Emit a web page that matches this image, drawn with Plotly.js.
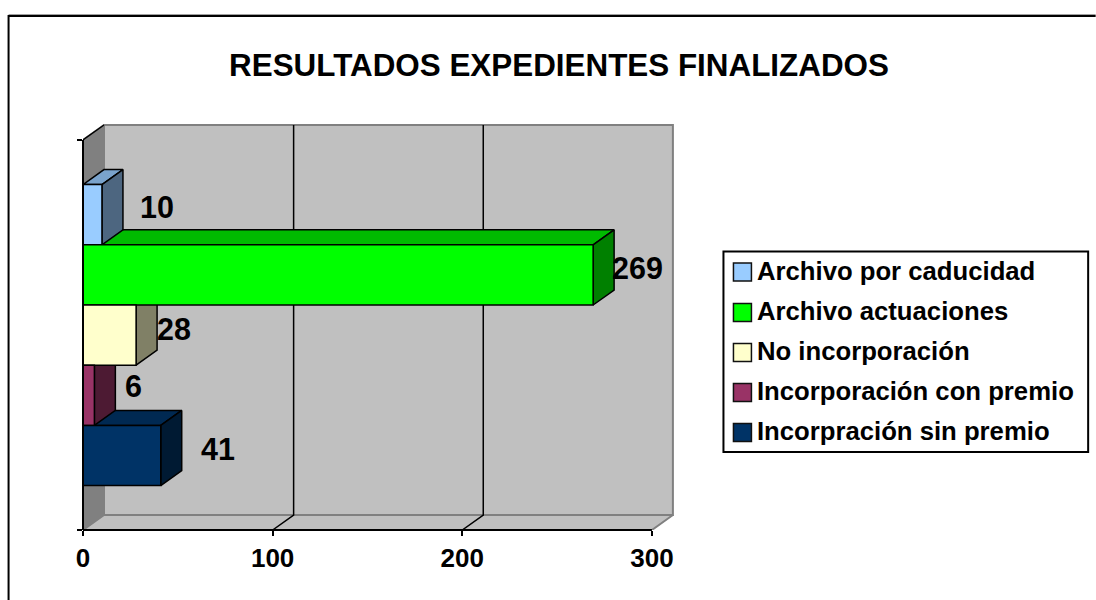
<!DOCTYPE html>
<html>
<head>
<meta charset="utf-8">
<script src="https://cdn.plot.ly/plotly-3.0.1.min.js"></script>
<style>html,body{margin:0;padding:0;background:#fff}#chart{width:1096px;height:600px}</style>
</head>
<body>
<div id="chart"></div>
<script>
// ---- data, listed top of the legend first ----
var categories = ["Archivo por caducidad", "Archivo actuaciones", "No incorporación", "Incorporación con premio", "Incorpración sin premio"];
var values = [10, 269, 28, 6, 41];
var tickValues = [0, 100, 200, 300];
var chartTitle = "RESULTADOS EXPEDIENTES FINALIZADOS";

// ---- styles ----
var frontColors = ["#99ccff", "#00ff00", "#ffffcc", "#993366", "#003366"];
var sideColors  = ["#4d6680", "#008000", "#808066", "#4d1a33", "#001a33"];
var topColors   = ["#7aa3cc", "#00bb00", "#cccca3", "#7a2952", "#002952"];
var labelShiftX = [55, 44, 38, 39, 57];
var labelShiftY = [8, 7, 6, 9, 7];
var legendSwatchCentres = [272, 312.5, 352.5, 392.5, 432.5];

// ---- geometry ----
var W = 1096, H = 600;
var M = {l: 82.5, r: 420, t: 121, b: 70};
var pxPerX = 1.898, pxPerY = 60.2;
var plotW = W - M.l - M.r, plotH = H - M.t - M.b;
var xRange = [0, plotW / pxPerX];
var yLow = -1.2375;
var yRange = [yLow, yLow + plotH / pxPerY];
var dX = 21 / pxPerX, dY = 15 / pxPerY;           // oblique depth, in axis units
var yTopTick = yLow + 390 / pxPerY;               // front top of the y axis
var xMax = 300;
var n = categories.length;
var rowOf = function (i) { return n - 1 - i; };   // last category sits lowest
function paperX(px) { return (px - M.l) / plotW; }
function paperY(py) { return 1 - (py - M.t) / plotH; }
function fracX(v) { return (v - xRange[0]) / (xRange[1] - xRange[0]); }
function fracY(v) { return (v - yRange[0]) / (yRange[1] - yRange[0]); }

function poly(xs, ys, fill, line, width) {
  return {type: "scatter", mode: "lines", x: xs, y: ys, fill: "toself", fillcolor: fill,
          line: {color: line, width: width}, hoverinfo: "skip", showlegend: false, cliponaxis: false};
}
function seg(xs, ys, color, width) {
  return {type: "scatter", mode: "lines", x: xs, y: ys, line: {color: color, width: width},
          hoverinfo: "skip", showlegend: false, cliponaxis: false};
}

var traces = [];
// walls and floor
traces.push(poly([dX, xMax + dX, xMax + dX, dX, dX], [yLow + dY, yLow + dY, yTopTick + dY, yTopTick + dY, yLow + dY], "#c0c0c0", "#808080", 2));
traces.push(poly([0, dX, dX, 0, 0], [yLow, yLow + dY, yTopTick + dY, yTopTick, yLow], "#808080", "#808080", 2));
traces.push(poly([0, xMax, xMax + dX, dX, 0], [yLow, yLow, yLow + dY, yLow + dY, yLow], "#c0c0c0", "#808080", 2));
// grid on the back wall and floor
tickValues.slice(1, -1).forEach(function (t) {
  traces.push(seg([t, t + dX, t + dX], [yLow, yLow + dY, yTopTick + dY], "#000000", 1.5));
});
// top edge of the side wall
traces.push(seg([0, dX], [yTopTick, yTopTick + dY], "#000000", 1.5));

// sides and tops, painted from the lowest bar upward
for (var i = n - 1; i >= 0; i--) {
  var v = values[i], r = rowOf(i);
  var lo = r - 0.5, hi = r + 0.5;
  traces.push(poly([0, dX, v + dX, v, 0], [hi, hi + dY, hi + dY, hi, hi], topColors[i], "#000000", 1.5));
  traces.push(poly([v, v + dX, v + dX, v, v], [lo, lo + dY, hi + dY, hi, lo], sideColors[i], "#000000", 1.5));
}
// front faces on the overlay axes, so they cover the lower bars' tops
categories.forEach(function (c, i) {
  traces.push({type: "bar", orientation: "h", x: [values[i]], y: [rowOf(i)], width: 1, xaxis: "x2", yaxis: "y2", cliponaxis: false,
    marker: {color: frontColors[i], line: {color: "#000000", width: 1.5}},
    name: c, legendgroup: c, showlegend: false, hovertemplate: c + ": %{x}<extra></extra>"});
});
// legend entries: the native key is too small to match, so larger keys are drawn as shapes below
categories.forEach(function (c, i) {
  traces.push({type: "scatter", mode: "markers", x: [null], y: [null], name: c, legendgroup: c, showlegend: true,
    marker: {symbol: "square", size: 10, color: "rgba(0,0,0,0)", line: {width: 0}}});
});

var font = "'Liberation Sans', Arial, sans-serif";
var annotations = values.map(function (v, i) {
  return {x: v, y: rowOf(i), xref: "x", yref: "y", text: String(v), showarrow: false,
          xshift: labelShiftX[i], yshift: labelShiftY[i], xanchor: "center", yanchor: "middle",
          font: {family: font, size: 30.5, weight: 700, color: "#000000"}};
});

var rectShape = function (x0, y0, x1, y1, color, width) {
  return {type: "line", xref: "paper", yref: "paper", x0: paperX(x0), y0: paperY(y0), x1: paperX(x1), y1: paperY(y1),
          line: {color: color, width: width}};
};
var shapes = [
  rectShape(8, 14.5, 1096, 14.5, "#a0a0a0", 1),
  rectShape(8, 16, 1096, 16, "#000000", 2),
  rectShape(8, 15, 8, 600, "#000000", 2),
  {type: "rect", xref: "paper", yref: "paper", x0: paperX(723.5), x1: paperX(1088.5), y0: paperY(251.5), y1: paperY(452),
   line: {color: "#000000", width: 2}, fillcolor: "#ffffff", layer: "below"},
  // axis lines: at the plot edge, so drawn unclipped in paper units
  {type: "line", xref: "paper", yref: "paper", x0: 0, x1: 0, y0: fracY(yLow), y1: fracY(yTopTick), line: {color: "#000000", width: 2}},
  {type: "line", xref: "paper", yref: "paper", x0: 0, x1: fracX(xMax), y0: fracY(yLow), y1: fracY(yLow), line: {color: "#000000", width: 2}}
];
legendSwatchCentres.forEach(function (cy, i) {
  shapes.push({type: "rect", xref: "paper", yref: "paper", x0: paperX(733.5), x1: paperX(751.5), y0: paperY(cy - 9), y1: paperY(cy + 9),
    line: {color: "#111111", width: 1.5}, fillcolor: frontColors[i]});
});

var layout = {
  width: W, height: H, margin: M, paper_bgcolor: "#ffffff", plot_bgcolor: "rgba(0,0,0,0)",
  barmode: "overlay", showlegend: true, hovermode: "closest",
  title: {text: chartTitle, x: 559 / W, xref: "container", xanchor: "center", y: 1 - 65.5 / H, yref: "container", yanchor: "middle",
          font: {family: font, size: 31.4, weight: 700, color: "#000000"}},
  xaxis: {range: xRange, tickmode: "array", tickvals: tickValues, ticks: "outside", ticklen: 5, tickwidth: 1.5, tickcolor: "#000000",
          showgrid: false, zeroline: false, showline: false, ticklabelstandoff: 0,
          tickfont: {family: font, size: 26, weight: 700, color: "#000000"}},
  yaxis: {range: yRange, tickmode: "array", tickvals: [yLow, yTopTick], ticktext: ["", ""], ticks: "outside", ticklen: 5, tickwidth: 1.5, tickcolor: "#000000",
          showgrid: false, zeroline: false, showline: false},
  xaxis2: {range: xRange, overlaying: "x", anchor: "y2", visible: false},
  yaxis2: {range: yRange, overlaying: "y", anchor: "x2", visible: false},
  legend: {x: paperX(717), xanchor: "left", y: paperY(246.5), yanchor: "top", traceorder: "grouped", tracegroupgap: 3.7,
           bgcolor: "rgba(0,0,0,0)", borderwidth: 0, itemclick: false, itemdoubleclick: false,
           font: {family: font, size: 25.7, weight: 700, color: "#000000"}},
  annotations: annotations,
  shapes: shapes
};
Plotly.newPlot("chart", traces, layout, {displayModeBar: false, responsive: false});
</script>
</body>
</html>
